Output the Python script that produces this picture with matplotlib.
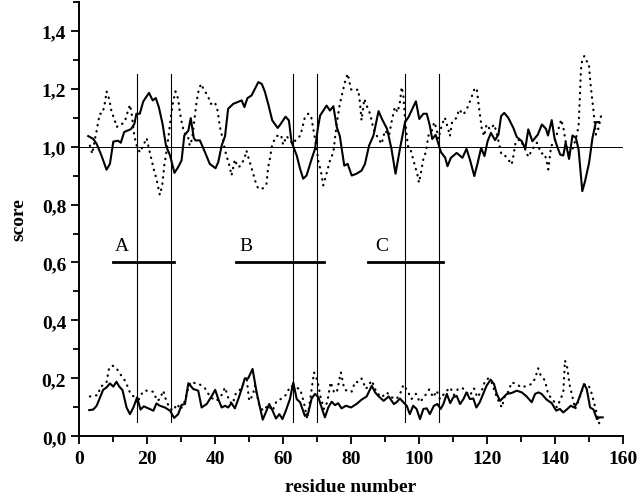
import matplotlib
matplotlib.use('Agg')
import matplotlib.pyplot as plt
from matplotlib.ticker import MultipleLocator, FuncFormatter

# upper pair (around 1.0)
up_solid_x = [2.6, 4.1, 5.1, 6.5, 8.0, 9.0, 10, 11.4, 12.2, 13.2, 14.2, 15.2, 16.2, 16.8, 17.8, 18.8, 20.5,
              21.6, 22.5, 23.4, 24.5, 25.5, 26.7, 28, 29.1, 30.1, 30.9, 32.1, 32.8, 33.7, 34.2, 35.5, 37,
              38.4, 40.1, 40.9, 41.9, 42.9, 43.8, 45.3, 47.8, 48.6, 49.5, 50.7, 52.7, 53.7, 54.6, 55.6,
              56.8, 58.4, 59.3, 60.7, 61.7, 62.5, 64, 65, 65.9, 66.9, 68.4, 69.4, 70.2, 70.9, 72.8, 73.8,
              74.8, 75.8, 76.7, 78, 79, 80.2, 81.6, 83.1, 84.1, 85.3, 86.6, 88.1, 89.1, 90.6, 91.9, 93.1,
              94.4, 95.9, 96.9, 99.1, 100.1, 101.3, 102.3, 103.2, 103.9, 104.9, 105.9, 106.5, 107.7,
              108.4, 109.4, 111.1, 112.8, 114.0, 115.0, 116.3, 117.3, 118.3, 119.3, 120.2, 121.2, 122.4,
              123.4, 124.2, 125.1, 126.3, 127.8, 128.8, 130.3, 131.3, 132.2, 133.4, 135.0, 136.2, 137.4,
              138.0, 139.1, 139.9, 140.6, 141.6, 142.5, 143.2, 144.2, 145.2, 146.2, 147, 148.1, 148.9,
              150.1, 151.1, 152.1, 153.0]
up_solid_y = [1.036, 1.026, 1.009, 0.969, 0.92, 0.94, 1.017, 1.02, 1.013, 1.05, 1.055, 1.06, 1.078, 1.113,
              1.113, 1.155, 1.185, 1.159, 1.167, 1.136, 1.078, 1.003, 0.969, 0.909, 0.929, 0.952, 1.038,
              1.055, 1.098, 1.029, 1.021, 1.021, 0.98, 0.94, 0.925, 0.946, 1.003, 1.036, 1.13, 1.147,
              1.159, 1.136, 1.167, 1.176, 1.222, 1.216, 1.19, 1.147, 1.09, 1.064, 1.078, 1.103, 1.09,
              1.015, 0.969, 0.923, 0.889, 0.9, 0.957, 0.992, 1.061, 1.107, 1.141, 1.124, 1.139, 1.067,
              1.036, 0.934, 0.94, 0.9, 0.906, 0.917, 0.94, 1.003, 1.038, 1.122, 1.095, 1.061, 0.992,
              0.906, 0.992, 1.084, 1.101, 1.156, 1.095, 1.113, 1.113, 1.072, 1.026, 1.04, 1.003, 0.98,
              0.962, 0.932, 0.961, 0.978, 0.961, 0.992, 0.955, 0.898, 0.944, 0.995, 0.967, 1.018, 1.047,
              1.022, 1.041, 1.105, 1.116, 1.099, 1.064, 1.033, 1.018, 0.992, 1.059, 1.018, 1.041, 1.076,
              1.061, 1.038, 1.091, 1.03, 1.003, 0.972, 0.969, 1.013, 0.957, 1.038, 1.03, 0.99, 0.846,
              0.88, 0.944, 1.03, 1.084, 1.084]

up_dot_x = [3.1, 3.8, 4.6, 5.1, 5.5, 6.0, 6.7, 7.3, 7.7, 8.0, 8.5, 9.0, 9.5, 10.3, 11.0, 12.0, 12.6, 13.4,
            14.2, 14.9, 15.4, 16.2, 16.8, 17.8, 18.8, 19.8, 20.5, 21.3, 22.0, 22.7, 23.2, 23.7, 24.4,
            25.0, 25.7, 26.4, 27.0, 27.6, 28.3, 29.1, 29.6, 30.3, 31.1, 31.9, 32.5, 33.2, 33.8, 34.5,
            35.0, 35.8, 36.8, 37.8, 38.7, 39.9, 40.7, 41.4, 42.1, 42.9, 43.6, 44.3, 44.8, 45.8, 46.6,
            47.3, 48.6, 49.2, 49.9, 50.5, 51.2, 51.9, 52.7, 54.1, 55.1, 55.6, 56.1, 56.8, 58.1, 59.4,
            60.0, 61.0, 62.0, 63.0, 64, 65, 65.6, 66.4, 67.4, 68.2, 68.9, 69.4, 69.9, 70.4, 71.1, 71.8,
            72.5, 73.3, 73.8, 74.8, 75.3, 76.0, 76.7, 77.4, 78.2, 79.0, 80.0, 81.1, 82.1, 82.6, 83.1,
            83.9, 84.6, 85.6, 86.6, 87.8, 89.0, 90.0, 91.2, 92.1, 92.9, 93.7, 94.4, 94.9, 95.4, 95.9,
            96.4, 96.9, 97.6, 98.8, 99.6, 100.0, 100.6, 101.3, 102.0, 102.8, 103.8, 104.5, 105.2, 105.7,
            106.7, 107.6, 108.6, 109.1, 109.8, 111.1, 111.8, 113.1, 114.4, 115.3, 116.3, 117.0, 117.5,
            118.0, 118.5, 119.2, 119.9, 120.9, 122.2, 123.2, 124.3, 125.3, 126.3, 127.3, 127.8, 128.5,
            129.8, 131.3, 132.2, 133.4, 134.7, 136.0, 137.0, 137.6, 138.1, 138.9, 139.9, 140.9, 141.9,
            142.6, 143.3, 144.0, 145.0, 146.2, 147.0, 147.4, 147.7, 148.1, 148.7, 149.4, 150.0, 150.4,
            150.9, 151.4, 152.1, 152.9, 153.9]
up_dot_y = [1.003, 0.975, 1.026, 1.055, 1.082, 1.113, 1.113, 1.136, 1.164, 1.19, 1.176, 1.151, 1.118,
            1.095, 1.067, 1.078, 1.078, 1.086, 1.118, 1.144, 1.113, 1.036, 1.006, 0.98, 1.003, 1.029,
            0.992, 0.952, 0.917, 0.889, 0.86, 0.833, 0.866, 0.934, 0.986, 1.049, 1.107, 1.153, 1.19,
            1.164, 1.118, 1.072, 1.044, 1.04, 1.003, 1.026, 1.084, 1.153, 1.187, 1.216, 1.193, 1.176,
            1.147, 1.153, 1.124, 1.067, 1.032, 0.986, 0.957, 0.929, 0.9, 0.955, 0.929, 0.932, 0.957,
            0.986, 0.957, 0.934, 0.906, 0.877, 0.854, 0.856, 0.871, 0.929, 0.957, 1.009, 1.036, 1.04,
            1.006, 1.036, 1.021, 1.009, 1.029, 1.036, 1.061, 1.101, 1.113, 1.107, 1.061, 1.026, 0.992,
            0.946, 0.917, 0.866, 0.894, 0.929, 0.952, 0.98, 1.032, 1.095, 1.147, 1.182, 1.222, 1.251,
            1.197, 1.193, 1.197, 1.153, 1.09, 1.164, 1.141, 1.113, 1.061, 1.032, 1.009, 1.055, 1.038,
            1.095, 1.136, 1.118, 1.153, 1.205, 1.176, 1.095, 1.036, 0.992, 0.986, 0.934, 0.9, 0.875,
            0.911, 0.957, 0.98, 1.038, 1.055, 1.084, 1.061, 1.026, 1.072, 1.1, 1.061, 1.036, 1.087,
            1.099, 1.128, 1.11, 1.137, 1.164, 1.197, 1.202, 1.151, 1.105, 1.061, 1.036, 1.076, 1.059,
            1.076, 1.03, 0.972, 0.969, 0.955, 0.938, 0.967, 1.018, 1.024, 0.99, 0.964, 0.99, 1.013,
            0.976, 0.976, 0.949, 0.921, 1.001, 1.018, 1.053, 1.093, 1.059, 1.01, 0.978, 0.984, 1.026,
            1.07, 1.174, 1.266, 1.3, 1.312, 1.294, 1.289, 1.231, 1.174, 1.122, 1.041, 1.064, 1.122]

# lower pair (around 0.1-0.2)
lo_solid_x = [2.9, 4.1, 5.1, 6.0, 7.0, 8.0, 9.0, 10.0, 10.9, 11.7, 12.7, 13.9, 14.9, 15.9, 17.0, 18.0,
              19.0, 20.3, 21.8, 22.7, 23.7, 25.2, 26.7, 27.9, 29.1, 30.1, 31.1, 32.1, 33.5, 35, 36, 37.5,
              39, 40, 40.9, 41.9, 42.9, 43.8, 44.8, 45.8, 46.8, 47.8, 48.7, 49.7, 51.0, 52.2, 53.2, 54.0,
              54.9, 55.9, 56.9, 57.9, 58.9, 59.8, 60.8, 62, 63, 64, 65, 66.4, 67.4, 68.4, 69.4, 70.4, 71,
              72.3, 73.3, 74.3, 75.3, 76.2, 77.2, 78.5, 80.0, 81.6, 83.1, 84.6, 86.1, 87.1, 88.0, 89.6,
              91.1, 92.6, 93.4, 94.4, 95.4, 96.4, 97.3, 98.3, 99.3, 100.3, 101.3, 102.3, 103.2, 104.4,
              105.4, 106.4, 107.2, 108.2, 109.2, 110.1, 111.1, 112.1, 113.1, 114.0, 115.0, 116.0, 116.9,
              117.9, 118.9, 119.9, 121.1, 122.1, 122.9, 123.9, 124.9, 125.9, 127.3, 128.8, 130.3, 131.7,
              133.2, 134.2, 135.2, 136.1, 137.6, 139.1, 140.4, 141.5, 142.5, 143.7, 144.7, 145.7, 146.7,
              147.6, 148.6, 149.4, 150.4, 151.4, 152.4, 153.2, 154.1]
lo_solid_y = [0.091, 0.093, 0.106, 0.132, 0.161, 0.169, 0.183, 0.172, 0.189, 0.173, 0.16, 0.1, 0.077, 0.1,
              0.135, 0.093, 0.104, 0.097, 0.089, 0.114, 0.106, 0.1, 0.089, 0.064, 0.077, 0.109, 0.112,
              0.184, 0.164, 0.158, 0.1, 0.112, 0.14, 0.161, 0.129, 0.1, 0.106, 0.1, 0.115, 0.097, 0.129,
              0.164, 0.2, 0.2, 0.233, 0.152, 0.1, 0.058, 0.083, 0.112, 0.089, 0.062, 0.077, 0.06, 0.089,
              0.129, 0.186, 0.129, 0.118, 0.071, 0.081, 0.131, 0.147, 0.135, 0.112, 0.066, 0.1, 0.12,
              0.108, 0.115, 0.097, 0.106, 0.1, 0.112, 0.127, 0.138, 0.175, 0.152, 0.14, 0.123, 0.138,
              0.112, 0.118, 0.131, 0.118, 0.106, 0.077, 0.106, 0.095, 0.06, 0.095, 0.097, 0.077, 0.106,
              0.112, 0.095, 0.112, 0.147, 0.115, 0.135, 0.14, 0.112, 0.129, 0.152, 0.129, 0.131, 0.1,
              0.118, 0.147, 0.175, 0.196, 0.181, 0.147, 0.123, 0.135, 0.147, 0.15, 0.158, 0.152, 0.138,
              0.118, 0.147, 0.152, 0.147, 0.127, 0.115, 0.089, 0.095, 0.083, 0.095, 0.106, 0.1, 0.118,
              0.147, 0.181, 0.164, 0.1, 0.093, 0.06, 0.066, 0.066]

lo_dot_x = [3.1, 5.5, 6.2, 7.2, 8.0, 8.8, 9.8, 10.8, 11.7, 12.7, 13.4, 14.1, 15.1, 16.0, 17.0, 18.0, 19.0,
            20.3, 21.8, 22.9, 23.7, 24.7, 25.5, 26.5, 27.6, 28.8, 29.8, 31.1, 32.1, 33.0, 34.0, 35.3,
            37.0, 38.6, 40.4, 41.9, 42.9, 44.1, 45.1, 46.1, 47.1, 48.3, 49.2, 50.0, 51.0, 51.7, 53.0,
            54.1, 55.6, 56.9, 58.1, 59.3, 60.8, 62.2, 63.5, 65.0, 66.1, 67.1, 68.1, 69.1, 70.1, 71.0,
            72.0, 73.0, 74.0, 75.0, 75.8, 77.0, 78.0, 79.2, 80.2, 81.2, 82.1, 83.1, 84.4, 86.1, 87.5,
            89.0, 90.5, 92.0, 93.4, 94.6, 95.4, 96.6, 97.8, 99.1, 100.3, 101.8, 103.0, 104.2, 105.2,
            106.2, 107.7, 109.2, 110.3, 111.6, 112.9, 114.0, 115.0, 116.2, 117.2, 118.5, 119.5, 120.4,
            121.4, 122.4, 123.4, 124.4, 125.3, 126.3, 127.3, 128.6, 130.3, 131.7, 133.2, 134.2, 135.1,
            135.8, 137.1, 138.1, 139.4, 140.6, 141.5, 142.5, 143.0, 143.7, 144.3, 145.0, 146.0, 147.0,
            148.0, 149.0, 150.0, 150.9, 151.9, 153.2]
lo_dot_y = [0.138, 0.143, 0.172, 0.178, 0.187, 0.238, 0.244, 0.238, 0.221, 0.204, 0.193, 0.175, 0.146,
            0.138, 0.115, 0.141, 0.158, 0.158, 0.154, 0.123, 0.129, 0.158, 0.126, 0.1, 0.089, 0.112,
            0.093, 0.123, 0.169, 0.189, 0.184, 0.181, 0.166, 0.135, 0.123, 0.143, 0.169, 0.123, 0.112,
            0.149, 0.158, 0.181, 0.207, 0.123, 0.141, 0.175, 0.106, 0.089, 0.108, 0.089, 0.123, 0.129,
            0.143, 0.175, 0.169, 0.164, 0.118, 0.06, 0.138, 0.221, 0.193, 0.138, 0.095, 0.118, 0.187,
            0.152, 0.152, 0.221, 0.164, 0.154, 0.155, 0.189, 0.187, 0.2, 0.164, 0.193, 0.152, 0.135,
            0.152, 0.135, 0.129, 0.152, 0.178, 0.158, 0.129, 0.147, 0.118, 0.141, 0.162, 0.135, 0.158,
            0.129, 0.152, 0.169, 0.143, 0.166, 0.166, 0.152, 0.141, 0.166, 0.135, 0.158, 0.193, 0.2,
            0.187, 0.152, 0.123, 0.1, 0.141, 0.154, 0.187, 0.181, 0.169, 0.175, 0.181, 0.2, 0.235,
            0.212, 0.193, 0.143, 0.129, 0.1, 0.123, 0.152, 0.262, 0.236, 0.181, 0.147, 0.095, 0.123,
            0.158, 0.181, 0.175, 0.147, 0.1, 0.04]

# boundaries and segments
boundaries = [17, 27, 63, 70, 96, 106]
seg_labels = ['A', 'B', 'C']
seg_start = [10, 46, 85]
seg_end = [28, 72, 107]
seg_label_x = [12.4, 49.2, 89]

plt.rcParams['font.family'] = ['Liberation Serif', 'DejaVu Serif']

fig = plt.figure(figsize=(6.4, 5.02), dpi=100)
ax = fig.add_axes([0.124, 0.1285, 0.849, 0.8665])

ax.axhline(1.0, color='black', lw=0.7)
for b in boundaries:
    ax.plot([b, b], [0.05, 1.25], color='black', lw=0.8)

ax.plot(up_solid_x, up_solid_y, color='black', lw=1.5)
ax.plot(up_dot_x, up_dot_y, color='black', lw=1.6, linestyle=(0, (0.2, 2.6)), dash_capstyle='round')
ax.plot(lo_solid_x, lo_solid_y, color='black', lw=1.5)
ax.plot(lo_dot_x, lo_dot_y, color='black', lw=1.6, linestyle=(0, (0.2, 2.6)), dash_capstyle='round')

for lab, s, e, lx in zip(seg_labels, seg_start, seg_end, seg_label_x):
    ax.plot([s, e], [0.6, 0.6], color='black', lw=2)
    ax.text(lx, 0.63, lab, fontsize=14, ha='center', va='bottom')

ax.set_xlim(0, 160)
ax.set_ylim(0, 1.5)
ax.xaxis.set_major_locator(MultipleLocator(20))
ax.xaxis.set_minor_locator(MultipleLocator(10))
ax.yaxis.set_major_locator(MultipleLocator(0.2))
ax.yaxis.set_minor_locator(MultipleLocator(0.1))
ax.yaxis.set_major_formatter(FuncFormatter(lambda v, p: f"{v:.1f}".replace('.', ',')))
ax.tick_params(which='major', direction='out', length=6, width=1.3, labelsize=14)
ax.tick_params(which='minor', direction='out', length=4, width=1.3)
for lbl in ax.get_xticklabels() + ax.get_yticklabels():
    lbl.set_fontweight('bold')

ax.spines['top'].set_visible(False)
ax.spines['right'].set_visible(False)
ax.spines['left'].set_linewidth(1.4)
ax.spines['bottom'].set_linewidth(1.4)

ax.set_xlabel('residue number', fontsize=14, fontweight='bold', labelpad=8)
ax.set_ylabel('score', fontsize=14, fontweight='bold', labelpad=10)

plt.savefig('out.png', dpi=100)
plt.close()
